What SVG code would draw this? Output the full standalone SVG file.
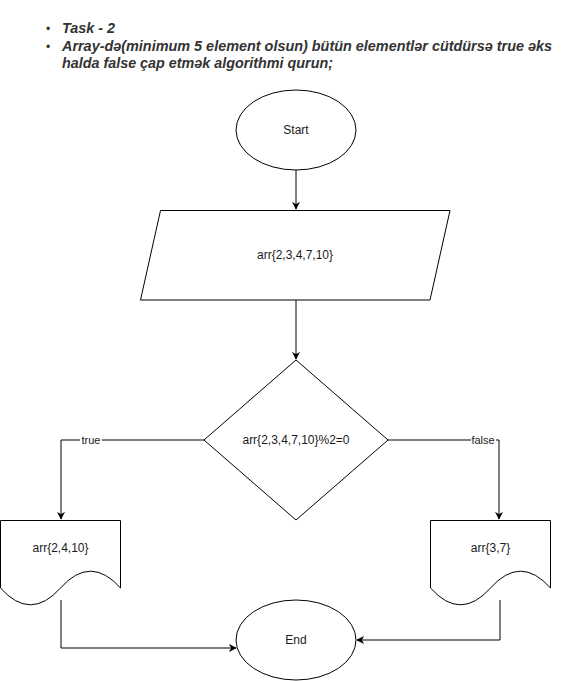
<svg xmlns="http://www.w3.org/2000/svg" width="571" height="681" viewBox="0 0 571 681">
<style>
.shape{fill:#fff;stroke:#000;stroke-width:1}
.conn{fill:none;stroke:#000;stroke-width:1}
.t{font-family:"Liberation Sans",Arial,sans-serif;font-size:12px;fill:#1a1a1a;text-anchor:middle;dominant-baseline:central}
.lbl{font-family:"Liberation Sans",Arial,sans-serif;font-size:11px;fill:#1a1a1a;text-anchor:middle;dominant-baseline:central}
.title{font-family:"Liberation Sans",Arial,sans-serif;font-size:14px;font-weight:bold;font-style:italic;fill:#333}
.bul{font-family:"Liberation Sans",Arial,sans-serif;font-size:12px;fill:#333}
</style>
<defs>
<marker id="arr" viewBox="0 0 10 10" refX="9" refY="5" markerWidth="8" markerHeight="8" markerUnits="userSpaceOnUse" orient="auto">
<path d="M0,0 L10,5 L0,10 L3,5 Z" fill="#000"/>
</marker>
</defs>
<rect width="571" height="681" fill="#fff"/>
<g id="title">
<text class="bul" x="46" y="33">•</text>
<text class="title" x="62" y="33" textLength="53" lengthAdjust="spacingAndGlyphs">Task - 2</text>
<text class="bul" x="46" y="51">•</text>
<text class="title" x="62" y="51" textLength="490" lengthAdjust="spacingAndGlyphs">Array-də(minimum 5 element olsun) bütün elementlər cütdürsə true əks</text>
<text class="title" x="62" y="68" textLength="271" lengthAdjust="spacingAndGlyphs">halda false çap etmək algorithmi qurun;</text>
</g>
<g id="connectors">
<path class="conn" d="M296,170 L296,209" marker-end="url(#arr)"/>
<path class="conn" d="M296,300 L296,359" marker-end="url(#arr)"/>
<path class="conn" d="M204,440 L61,440 L61,519" marker-end="url(#arr)"/>
<path class="conn" d="M388,440 L499,440 L499,519" marker-end="url(#arr)"/>
<path class="conn" d="M61,600 L61,648 L236,648" marker-end="url(#arr)"/>
<path class="conn" d="M500,600 L500,640 L357,640" marker-end="url(#arr)"/>
<rect x="80" y="433" width="22" height="14" fill="#fff"/>
<text class="lbl" x="91" y="440">true</text>
<rect x="471" y="433" width="25" height="14" fill="#fff"/>
<text class="lbl" x="483" y="440">false</text>
</g>
<g id="start">
<ellipse class="shape" cx="296" cy="130" rx="60" ry="40"/>
<text class="t" x="296" y="130">Start</text>
</g>
<g id="input">
<path class="shape" d="M160.5,210.5 L450,210.5 L430,300 L140.5,300 Z"/>
<text class="t" x="295" y="255">arr{2,3,4,7,10}</text>
</g>
<g id="decision">
<path class="shape" d="M296,360 L388,440 L296,520 L204,440 Z"/>
<text class="t" x="296" y="440">arr{2,3,4,7,10}%2=0</text>
</g>
<g id="doc-true">
<path class="shape" d="M0.5,520.5 L120.5,520.5 L120.5,588 Q90.5,554.4 60.5,588 Q30.5,621.6 0.5,588 Z"/>
<text class="t" x="60.5" y="548">arr{2,4,10}</text>
</g>
<g id="doc-false">
<path class="shape" d="M430.5,520.5 L550.5,520.5 L550.5,588 Q520.5,554.4 490.5,588 Q460.5,621.6 430.5,588 Z"/>
<text class="t" x="490.5" y="548">arr{3,7}</text>
</g>
<g id="end">
<ellipse class="shape" cx="296" cy="640" rx="60" ry="40"/>
<text class="t" x="296" y="640">End</text>
</g>
</svg>
